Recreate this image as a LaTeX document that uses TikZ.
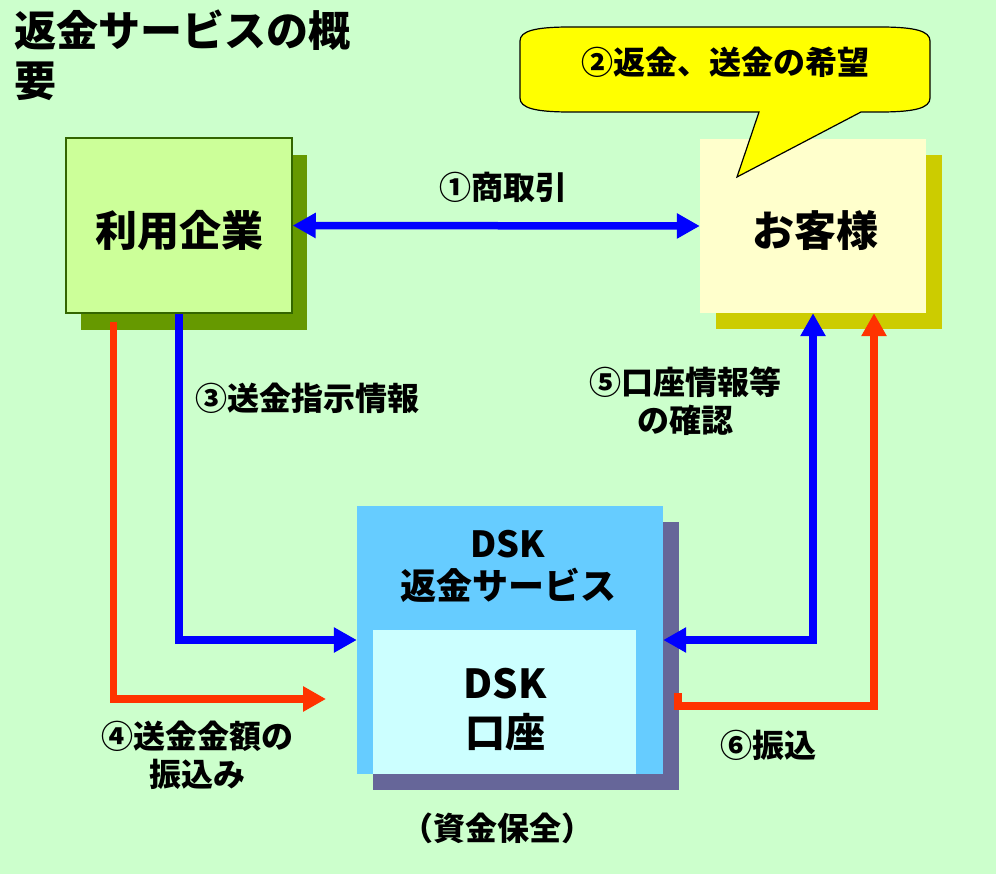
\documentclass[tikz,border=0pt]{standalone}
\usepackage{fontspec}
\setmainfont{Noto Sans CJK JP}
\usetikzlibrary{arrows.meta,calc,shadows}
\definecolor{bg}{HTML}{CCFFCC}
\definecolor{kgfill}{HTML}{CCFF99}
\definecolor{kgline}{HTML}{336600}
\definecolor{kgshadow}{HTML}{669900}
\definecolor{kkfill}{HTML}{FFFFCC}
\definecolor{kkshadow}{HTML}{CCCC00}
\definecolor{dskfill}{HTML}{66CCFF}
\definecolor{dskshadow}{HTML}{666699}
\definecolor{innerfill}{HTML}{CCFFFF}
\definecolor{bluearrow}{HTML}{0000FF}
\definecolor{redarrow}{HTML}{FF3300}
\definecolor{callfill}{HTML}{FFFF00}
\begin{document}
\begin{tikzpicture}[x=1pt,y=-1pt,
  lbl/.style={font=\fontsize{32}{38}\selectfont\bfseries, align=center, inner sep=0pt},
  bigtxt/.style={font=\fontsize{42}{50}\selectfont\bfseries},
  boxkg/.style={draw=kgline, line width=1.5pt, fill=kgfill, minimum width=226pt, minimum height=175pt, inner sep=0pt,
     drop shadow={shadow xshift=15pt, shadow yshift=-17pt, fill=kgshadow, opacity=1}},
  boxkk/.style={fill=kkfill, minimum width=226pt, minimum height=174pt, inner sep=0pt,
     drop shadow={shadow xshift=16pt, shadow yshift=-16pt, fill=kkshadow, opacity=1}},
  boxdsk/.style={fill=dskfill, minimum width=306pt, minimum height=268pt, inner sep=0pt,
     drop shadow={shadow xshift=16pt, shadow yshift=-16pt, fill=dskshadow, opacity=1}},
  boxinner/.style={fill=innerfill, minimum width=263pt, minimum height=144pt, inner sep=0pt},
  bluea/.style={draw=bluearrow, line width=7.5pt},
  reda/.style={draw=redarrow, line width=7.5pt},
  tip/.style={-{Triangle[length=23pt,width=24pt]}},
  tips/.style={{Triangle[length=23pt,width=24pt]}-{Triangle[length=23pt,width=24pt]}},
  callout/.style={draw=black, line width=1.2pt, fill=callfill}
]
\fill[bg] (0,0) rectangle (996,874);
\useasboundingbox (0,0) rectangle (996,874);

% title
\node[bigtxt, anchor=north west, align=left, inner sep=0pt] (title) at (14,10) {返金サービスの概\\要};

% boxes
\node[boxkg] (kigyo) at (179,225.5) {};
\node[bigtxt] (kigyotxt) at (179,231) {利用企業};
\node[boxkk] (kyaku) at (813,226) {};
\node[bigtxt] (kyakutxt) at (815,231) {お客様};

% callout
\draw[callout] (759,112) -- (737,177) -- (861,112) -- (880,112)
  .. controls (915,112) and (930,108) .. (930,98) -- (930,41)
  .. controls (930,31) and (915,27) .. (880,27) -- (570,27)
  .. controls (535,27) and (520,31) .. (520,41) -- (520,98)
  .. controls (520,108) and (535,112) .. (570,112) -- cycle;

\node[boxdsk] (dsk) at (510,640) {};
\node[boxinner] (inner) at (504.5,702) {};
\node[font=\fontsize{36}{42}\selectfont\bfseries, align=center, inner sep=0pt] (dsktxt) at (508,566) {DSK\\返金サービス};
\node[font=\fontsize{40}{49}\selectfont\bfseries, align=center, inner sep=0pt] (innertxt) at (505,710) {DSK\\口座};

% labels
\node[lbl] (l1) at (503,187) {①商取引};
\node[lbl] (l2) at (725,62) {②返金、送金の希望};
\node[lbl] (l3) at (307,398) {③送金指示情報};
\node[lbl] (l4) at (197,755) {④送金金額の\\振込み};
\node[lbl] (l5) at (685,401) {⑤口座情報等\\の確認};
\node[lbl] (l6) at (768,745) {⑥振込};
\node[lbl] (l7) at (497,828) {（資金保全）};

% connectors
\draw[bluea, tips] (kigyo.east) -- (kyaku.west);
\draw[bluea, tip] (kigyo.south) |- (dsk.west);
\coordinate (r4e) at (326,699);
\draw[reda, tip] ($(kigyo.south west)+(48,8)$) |- (r4e);
\draw[bluea, tips] (kyaku.south) |- (dsk.east);
\draw[reda, tip] ($(dsk.east)+(15,53)$) -- ($(dsk.east)+(15,66)$) -| ($(kyaku.south)+(61,0)$);
\end{tikzpicture}
\end{document}
